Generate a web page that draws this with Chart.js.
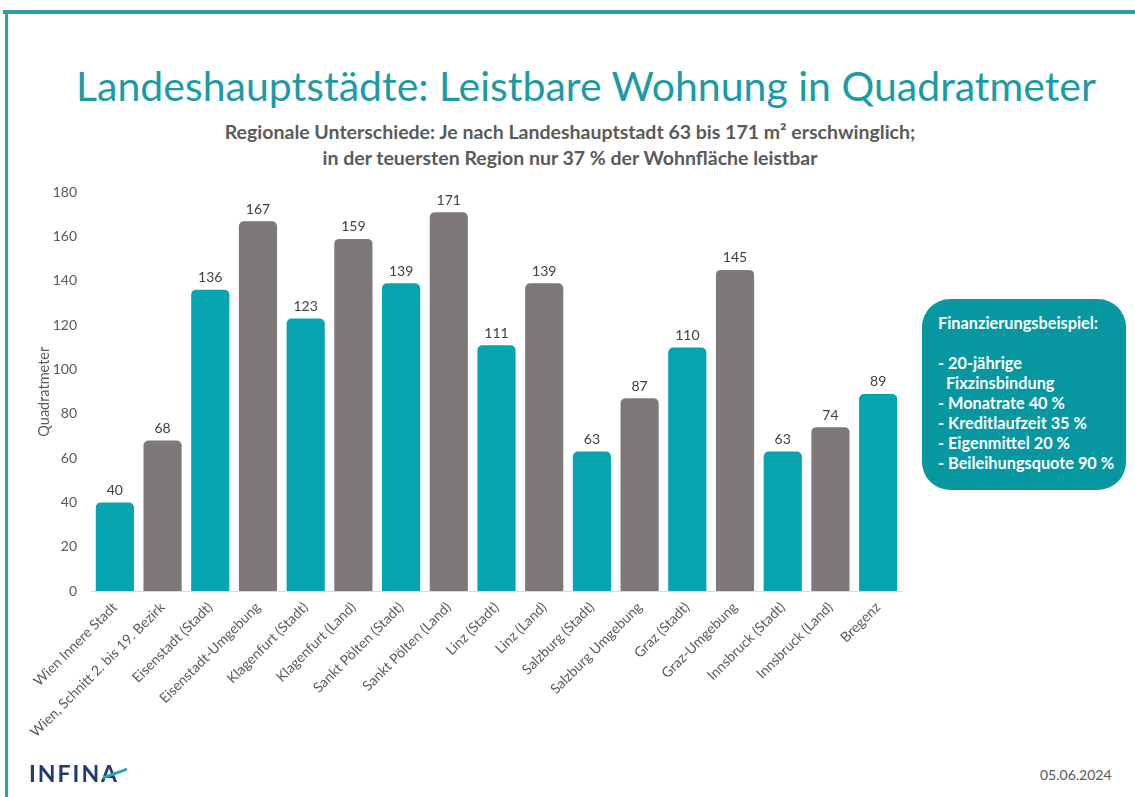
<!DOCTYPE html>
<html>
<head>
<meta charset="utf-8">
<script src="https://cdn.jsdelivr.net/npm/chart.js@4/dist/chart.umd.min.js"></script>
<style>
  html, body { margin:0; padding:0; background:#ffffff; }
  body { width:1135px; height:797px; position:relative; overflow:hidden; font-family: Lato, "Open Sans", sans-serif; }
  #topline { position:absolute; left:3px; top:10px; width:1132px; height:4px; background:#2e9ea8; }
  #leftline { position:absolute; left:5px; top:10px; width:3px; height:787px; background:#2e9ea8; }
  #title { position:absolute; left:0; width:1172px; top:61px; text-align:center; font-size:41px; color:#1b9ba5; white-space:nowrap; }
  #subtitle { position:absolute; left:0; width:1140px; top:119px; text-align:center; font-size:19.5px; font-weight:bold; color:#5a5a5a; line-height:26px; white-space:nowrap; }
  #wrap { position:absolute; left:0; top:170px; width:910px; height:590px; }
  #box { position:absolute; left:922px; top:299px; width:204px; height:191px; background:#0797a0; border-radius:28px; color:#ffffff; font-size:16.3px; font-weight:bold; box-sizing:border-box; padding:14px 0 0 16px; line-height:20px; white-space:nowrap; }
  #logo { position:absolute; left:29px; top:759px; font-size:23px; font-weight:bold; color:#1f3a6e; letter-spacing:2px; }
  #logo .a { position:relative; }
  #logo .sw { position:absolute; left:1px; top:13px; width:26px; height:3px; background:#2aa6b0; transform:rotate(-20deg); border-radius:2px; }
  #date { position:absolute; left:1040px; top:766px; font-size:14px; color:#595959; }
</style>
</head>
<body>
<div id="topline"></div>
<div id="leftline"></div>
<div id="title">Landeshauptstädte: Leistbare Wohnung in Quadratmeter</div>
<div id="subtitle">Regionale Unterschiede: Je nach Landeshauptstadt 63 bis 171 m² erschwinglich;<br>in der teuersten Region nur 37 % der Wohnfläche leistbar</div>
<div id="wrap"><canvas id="c"></canvas></div>
<div id="box">Finanzierungsbeispiel:<br><br>- 20-jährige<br>&nbsp;&nbsp;Fixzinsbindung<br>- Monatrate 40 %<br>- Kreditlaufzeit 35 %<br>- Eigenmittel 20 %<br>- Beileihungsquote 90 %</div>
<div id="logo">INFIN<span class="a">A<span class="sw"></span></span></div>
<div id="date">05.06.2024</div>
<script>
const categories = [
  "Wien Innere Stadt", "Wien, Schnitt 2. bis 19. Bezirk", "Eisenstadt (Stadt)", "Eisenstadt-Umgebung",
  "Klagenfurt (Stadt)", "Klagenfurt (Land)", "Sankt Pölten (Stadt)", "Sankt Pölten (Land)",
  "Linz (Stadt)", "Linz (Land)", "Salzburg (Stadt)", "Salzburg Umgebung",
  "Graz (Stadt)", "Graz-Umgebung", "Innsbruck (Stadt)", "Innsbruck (Land)", "Bregenz"
];
const values = [40, 68, 136, 167, 123, 159, 139, 171, 111, 139, 63, 87, 110, 145, 63, 74, 89];
const regionType = ["Stadt", "Umland", "Stadt", "Umland", "Stadt", "Umland", "Stadt", "Umland",
  "Stadt", "Umland", "Stadt", "Umland", "Stadt", "Umland", "Stadt", "Umland", "Stadt"];
const yTicks = [0, 20, 40, 60, 80, 100, 120, 140, 160, 180];
const yAxisTitle = "Quadratmeter";

const typeColors = { Stadt: "#06a3b1", Umland: "#7f7878" };

const valueLabels = {
  id: "valueLabels",
  afterDatasetsDraw(chart) {
    const ctx = chart.ctx;
    const meta = chart.getDatasetMeta(0);
    ctx.save();
    ctx.font = "14px Lato, 'Open Sans', sans-serif";
    ctx.fillStyle = "#404040";
    ctx.textAlign = "center";
    ctx.textBaseline = "bottom";
    meta.data.forEach((bar, i) => {
      ctx.fillText(String(values[i]), bar.x, bar.y - 5);
    });
    ctx.restore();
  }
};

new Chart(document.getElementById("c"), {
  type: "bar",
  data: {
    labels: categories,
    datasets: [{
      data: values,
      backgroundColor: regionType.map(t => typeColors[t]),
      borderRadius: { topLeft: 5, topRight: 5, bottomLeft: 0, bottomRight: 0 },
      borderSkipped: "bottom",
      barPercentage: 0.8,
      categoryPercentage: 1.0
    }]
  },
  options: {
    responsive: true,
    maintainAspectRatio: false,
    animation: false,
    layout: { padding: { left: 36, top: 1, right: 8, bottom: 0 } },
    plugins: { legend: { display: false }, tooltip: { enabled: false } },
    scales: {
      x: {
        grid: { display: false, drawTicks: false },
        border: { display: true, color: "#d9d9d9", width: 1 },
        ticks: {
          minRotation: 45, maxRotation: 45, autoSkip: false,
          color: "#595959", font: { family: "Lato, 'Open Sans', sans-serif", size: 14 },
          padding: 8
        },
        afterFit(scale) { scale.height = 169; }
      },
      y: {
        min: 0, max: 180,
        afterBuildTicks(scale) { scale.ticks = yTicks.map(v => ({ value: v })); },
        grid: { display: false, drawTicks: false },
        border: { display: false },
        ticks: { color: "#595959", font: { family: "Lato, 'Open Sans', sans-serif", size: 14 }, padding: 14 },
        title: { display: true, text: yAxisTitle, color: "#595959", font: { family: "Lato, 'Open Sans', sans-serif", size: 14.5 }, padding: { top: 0, bottom: 0 } },
        afterFit(scale) { scale.width = 55; }
      }
    }
  },
  plugins: [valueLabels]
});
</script>
</body>
</html>
